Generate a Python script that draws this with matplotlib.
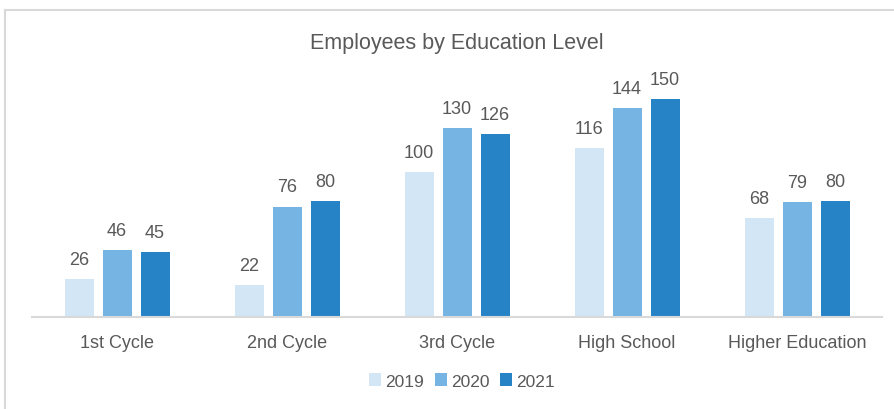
import matplotlib
matplotlib.use('Agg')
import matplotlib.pyplot as plt
from matplotlib.lines import Line2D
from matplotlib.patches import Patch
import numpy as np

plt.rcParams['font.family'] = ['Liberation Sans Narrow', 'Liberation Sans', 'DejaVu Sans']

categories = ['1st Cycle', '2nd Cycle', '3rd Cycle', 'High School', 'Higher Education']
years = ['2019', '2020', '2021']
v2019 = [26, 22, 100, 116, 68]
v2020 = [46, 76, 130, 144, 79]
v2021 = [45, 80, 126, 150, 80]
colors = ['#D2E6F5', '#76B4E3', '#2683C6']

TEXT = '#595959'
GRID = '#D9D9D9'

fig = plt.figure(figsize=(8.94, 4.10), dpi=100)
ax = fig.add_axes([32 / 894, 92 / 410, 850 / 894, 263 / 410])

x = np.arange(len(categories))
w = 29 / 170
step = 38 / 170
for i, (vals, c) in enumerate(zip([v2019, v2020, v2021], colors)):
    bars = ax.bar(x + (i - 1) * step, vals, width=w, color=c, label=years[i])
    for b, v in zip(bars, vals):
        ax.annotate(str(v), (b.get_x() + b.get_width() / 2, v), xytext=(0, 8),
                    textcoords='offset points', ha='center', va='bottom',
                    fontsize=13, color=TEXT)

ax.set_xlim(-0.5, len(categories) - 0.5)
ax.set_ylim(0, 181)
ax.set_yticks([])
ax.set_xticks(x)
ax.set_xticklabels(categories, fontsize=13, color=TEXT)
ax.tick_params(axis='x', length=0, pad=12)
for s in ['top', 'right', 'left']:
    ax.spines[s].set_visible(False)
ax.spines['bottom'].set_color(GRID)
ax.spines['bottom'].set_linewidth(1.5)

fig.text(0.511, 1 - 44 / 410, 'Employees by Education Level', ha='center', va='center',
         fontsize=15.5, color=TEXT)

handles = [Patch(facecolor=c, edgecolor='none') for c in colors]
fig.legend(handles, years, loc='center', bbox_to_anchor=(462 / 894, 1 - 382 / 410),
           ncol=3, frameon=False, fontsize=12.5, labelcolor=TEXT,
           handlelength=0.7, handleheight=0.7, handletextpad=0.25, columnspacing=0.6)

# chart border (only top and left visible in the crop)
fig.add_artist(Line2D([5 / 894, 1], [1 - 10.5 / 410, 1 - 10.5 / 410], color=GRID, lw=1.5))
fig.add_artist(Line2D([5 / 894, 5 / 894], [0, 1 - 10.5 / 410], color=GRID, lw=1.5))

fig.savefig('out.png', dpi=100)
